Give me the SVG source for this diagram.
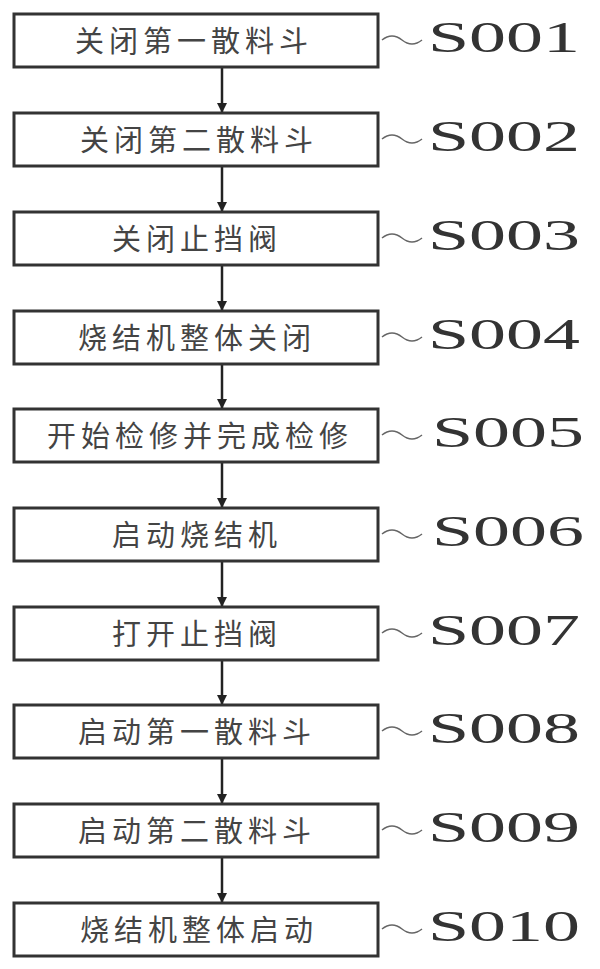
<svg xmlns="http://www.w3.org/2000/svg" width="600" height="969" viewBox="0 0 600 969">
<defs><marker id="ah" viewBox="0 0 10 10" refX="10" refY="5" markerWidth="4" markerHeight="6" orient="auto" markerUnits="strokeWidth"><path d="M0,0L10,5L0,10z" fill="#222"/></marker>
<style>
.b{fill:#fff;stroke:#333;stroke-width:3}
.t{font-family:"Noto Sans CJK SC",sans-serif;font-size:29px;fill:#444;text-anchor:middle;letter-spacing:5px}
.l{font-family:"Liberation Serif",serif;font-size:44px;fill:#333}
.w{fill:none;stroke:#666;stroke-width:1.5}
.c{stroke:#222;stroke-width:2.5;fill:none}
</style></defs>
<rect width="600" height="969" fill="#fff"/>
<g id="connectors">
<line class="c" x1="222" y1="67" x2="222" y2="113" marker-end="url(#ah)"/>
<line class="c" x1="222" y1="166" x2="222" y2="212" marker-end="url(#ah)"/>
<line class="c" x1="222" y1="265" x2="222" y2="311" marker-end="url(#ah)"/>
<line class="c" x1="222" y1="364" x2="222" y2="409" marker-end="url(#ah)"/>
<line class="c" x1="222" y1="462" x2="222" y2="508" marker-end="url(#ah)"/>
<line class="c" x1="222" y1="561" x2="222" y2="607" marker-end="url(#ah)"/>
<line class="c" x1="222" y1="660" x2="222" y2="705" marker-end="url(#ah)"/>
<line class="c" x1="222" y1="758" x2="222" y2="804" marker-end="url(#ah)"/>
<line class="c" x1="222" y1="857" x2="222" y2="903" marker-end="url(#ah)"/>
</g>
<g id="n1"><rect class="b" x="14" y="14" width="364" height="53"/><text class="t" x="194" y="52">关闭第一散料斗</text><path class="w" d="M382,40q10,-8 20,0t20,0"/><text class="l" x="428" y="52" textLength="152" lengthAdjust="spacingAndGlyphs">S001</text></g>
<g id="n2"><rect class="b" x="14" y="113" width="364" height="53"/><text class="t" x="199" y="151">关闭第二散料斗</text><path class="w" d="M382,139q10,-8 20,0t20,0"/><text class="l" x="428" y="151" textLength="152" lengthAdjust="spacingAndGlyphs">S002</text></g>
<g id="n3"><rect class="b" x="14" y="212" width="364" height="53"/><text class="t" x="197" y="250">关闭止挡阀</text><path class="w" d="M382,238q10,-8 20,0t20,0"/><text class="l" x="428" y="250" textLength="152" lengthAdjust="spacingAndGlyphs">S003</text></g>
<g id="n4"><rect class="b" x="14" y="311" width="364" height="53"/><text class="t" x="197" y="349">烧结机整体关闭</text><path class="w" d="M382,337q10,-8 20,0t20,0"/><text class="l" x="428" y="349" textLength="152" lengthAdjust="spacingAndGlyphs">S004</text></g>
<g id="n5"><rect class="b" x="14" y="409" width="364" height="53"/><text class="t" x="200" y="447">开始检修并完成检修</text><path class="w" d="M382,435q10,-8 20,0t20,0"/><text class="l" x="432" y="447" textLength="152" lengthAdjust="spacingAndGlyphs">S005</text></g>
<g id="n6"><rect class="b" x="14" y="508" width="364" height="53"/><text class="t" x="197" y="546">启动烧结机</text><path class="w" d="M382,534q10,-8 20,0t20,0"/><text class="l" x="432" y="546" textLength="152" lengthAdjust="spacingAndGlyphs">S006</text></g>
<g id="n7"><rect class="b" x="14" y="607" width="364" height="53"/><text class="t" x="197" y="645">打开止挡阀</text><path class="w" d="M382,633q10,-8 20,0t20,0"/><text class="l" x="428" y="645" textLength="152" lengthAdjust="spacingAndGlyphs">S007</text></g>
<g id="n8"><rect class="b" x="14" y="705" width="364" height="53"/><text class="t" x="197" y="743">启动第一散料斗</text><path class="w" d="M382,731q10,-8 20,0t20,0"/><text class="l" x="428" y="743" textLength="152" lengthAdjust="spacingAndGlyphs">S008</text></g>
<g id="n9"><rect class="b" x="14" y="804" width="364" height="53"/><text class="t" x="197" y="842">启动第二散料斗</text><path class="w" d="M382,830q10,-8 20,0t20,0"/><text class="l" x="428" y="842" textLength="152" lengthAdjust="spacingAndGlyphs">S009</text></g>
<g id="n10"><rect class="b" x="14" y="903" width="364" height="53"/><text class="t" x="199" y="941">烧结机整体启动</text><path class="w" d="M382,929q10,-8 20,0t20,0"/><text class="l" x="428" y="941" textLength="152" lengthAdjust="spacingAndGlyphs">S010</text></g>
</svg>
